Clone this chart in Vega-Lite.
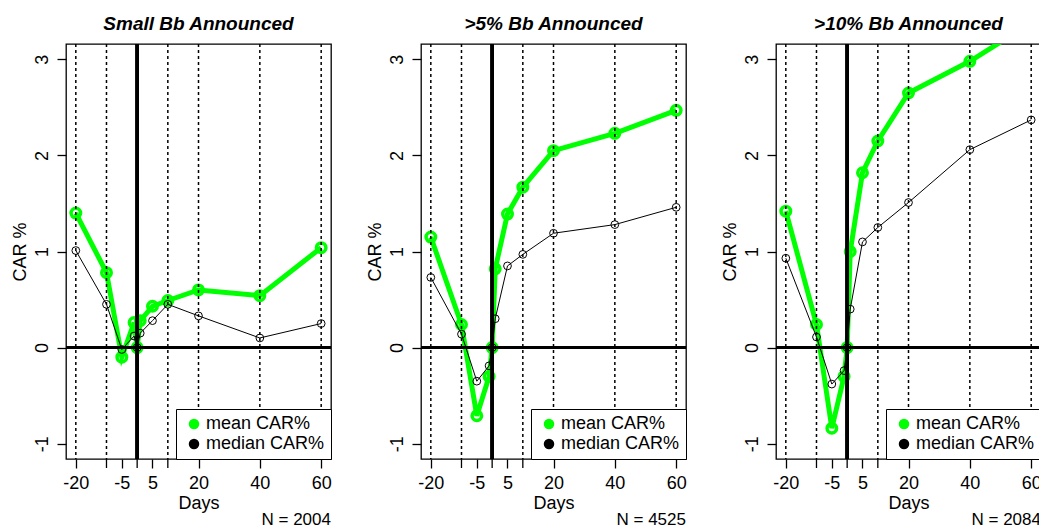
{
  "$schema": "https://vega.github.io/schema/vega-lite/v6.json",
  "padding": {"left": 10, "top": 13, "right": 0, "bottom": 0},
  "background": "white",
  "bounds": "flush",
  "spacing": 90,
  "datasets": {
    "car": [
      {"panel": "p1", "series": "mean CAR%", "day": -20, "car": 1.40},
      {"panel": "p1", "series": "mean CAR%", "day": -10, "car": 0.78},
      {"panel": "p1", "series": "mean CAR%", "day": -5, "car": -0.10},
      {"panel": "p1", "series": "mean CAR%", "day": -1, "car": 0.26},
      {"panel": "p1", "series": "mean CAR%", "day": 0, "car": 0.0},
      {"panel": "p1", "series": "mean CAR%", "day": 1, "car": 0.28},
      {"panel": "p1", "series": "mean CAR%", "day": 5, "car": 0.43},
      {"panel": "p1", "series": "mean CAR%", "day": 10, "car": 0.49},
      {"panel": "p1", "series": "mean CAR%", "day": 20, "car": 0.60},
      {"panel": "p1", "series": "mean CAR%", "day": 40, "car": 0.54},
      {"panel": "p1", "series": "mean CAR%", "day": 60, "car": 1.04},
      {"panel": "p1", "series": "median CAR%", "day": -20, "car": 1.01},
      {"panel": "p1", "series": "median CAR%", "day": -10, "car": 0.45},
      {"panel": "p1", "series": "median CAR%", "day": -5, "car": -0.02},
      {"panel": "p1", "series": "median CAR%", "day": -1, "car": 0.12},
      {"panel": "p1", "series": "median CAR%", "day": 0, "car": 0.0},
      {"panel": "p1", "series": "median CAR%", "day": 1, "car": 0.15},
      {"panel": "p1", "series": "median CAR%", "day": 5, "car": 0.28},
      {"panel": "p1", "series": "median CAR%", "day": 10, "car": 0.45},
      {"panel": "p1", "series": "median CAR%", "day": 20, "car": 0.33},
      {"panel": "p1", "series": "median CAR%", "day": 40, "car": 0.10},
      {"panel": "p1", "series": "median CAR%", "day": 60, "car": 0.25},
      {"panel": "p2", "series": "mean CAR%", "day": -20, "car": 1.15},
      {"panel": "p2", "series": "mean CAR%", "day": -10, "car": 0.24},
      {"panel": "p2", "series": "mean CAR%", "day": -5, "car": -0.71},
      {"panel": "p2", "series": "mean CAR%", "day": -1, "car": -0.30},
      {"panel": "p2", "series": "mean CAR%", "day": 0, "car": 0.0},
      {"panel": "p2", "series": "mean CAR%", "day": 1, "car": 0.82},
      {"panel": "p2", "series": "mean CAR%", "day": 5, "car": 1.39},
      {"panel": "p2", "series": "mean CAR%", "day": 10, "car": 1.67},
      {"panel": "p2", "series": "mean CAR%", "day": 20, "car": 2.05},
      {"panel": "p2", "series": "mean CAR%", "day": 40, "car": 2.23},
      {"panel": "p2", "series": "mean CAR%", "day": 60, "car": 2.47},
      {"panel": "p2", "series": "median CAR%", "day": -20, "car": 0.73},
      {"panel": "p2", "series": "median CAR%", "day": -10, "car": 0.14},
      {"panel": "p2", "series": "median CAR%", "day": -5, "car": -0.35},
      {"panel": "p2", "series": "median CAR%", "day": -1, "car": -0.19},
      {"panel": "p2", "series": "median CAR%", "day": 0, "car": 0.0},
      {"panel": "p2", "series": "median CAR%", "day": 1, "car": 0.30},
      {"panel": "p2", "series": "median CAR%", "day": 5, "car": 0.85},
      {"panel": "p2", "series": "median CAR%", "day": 10, "car": 0.97},
      {"panel": "p2", "series": "median CAR%", "day": 20, "car": 1.19},
      {"panel": "p2", "series": "median CAR%", "day": 40, "car": 1.28},
      {"panel": "p2", "series": "median CAR%", "day": 60, "car": 1.46},
      {"panel": "p3", "series": "mean CAR%", "day": -20, "car": 1.42},
      {"panel": "p3", "series": "mean CAR%", "day": -10, "car": 0.24},
      {"panel": "p3", "series": "mean CAR%", "day": -5, "car": -0.84},
      {"panel": "p3", "series": "mean CAR%", "day": -1, "car": -0.30},
      {"panel": "p3", "series": "mean CAR%", "day": 0, "car": 0.0},
      {"panel": "p3", "series": "mean CAR%", "day": 1, "car": 1.00},
      {"panel": "p3", "series": "mean CAR%", "day": 5, "car": 1.82},
      {"panel": "p3", "series": "mean CAR%", "day": 10, "car": 2.15},
      {"panel": "p3", "series": "mean CAR%", "day": 20, "car": 2.65},
      {"panel": "p3", "series": "mean CAR%", "day": 40, "car": 2.98},
      {"panel": "p3", "series": "mean CAR%", "day": 60, "car": 3.38},
      {"panel": "p3", "series": "median CAR%", "day": -20, "car": 0.93},
      {"panel": "p3", "series": "median CAR%", "day": -10, "car": 0.11},
      {"panel": "p3", "series": "median CAR%", "day": -5, "car": -0.38},
      {"panel": "p3", "series": "median CAR%", "day": -1, "car": -0.24},
      {"panel": "p3", "series": "median CAR%", "day": 0, "car": 0.0},
      {"panel": "p3", "series": "median CAR%", "day": 1, "car": 0.40},
      {"panel": "p3", "series": "median CAR%", "day": 5, "car": 1.10},
      {"panel": "p3", "series": "median CAR%", "day": 10, "car": 1.25},
      {"panel": "p3", "series": "median CAR%", "day": 20, "car": 1.51},
      {"panel": "p3", "series": "median CAR%", "day": 40, "car": 2.06},
      {"panel": "p3", "series": "median CAR%", "day": 60, "car": 2.37}
    ],
    "vlines": [{"day": -20}, {"day": -10}, {"day": 10}, {"day": 20}, {"day": 40}, {"day": 60}],
    "xticks": [{"day": -10}, {"day": 0}, {"day": 10}],
    "nlabels": [
      {"panel": "p1", "label": "N = 2004"},
      {"panel": "p2", "label": "N = 4525"},
      {"panel": "p3", "label": "N = 2084"}
    ]
  },
  "hconcat": [
    {
      "width": 265, "height": 415,
      "title": {"text": "Small Bb Announced"},
      "layer": [
        {"data": {"name": "car"}, "transform": [{"filter": "datum.panel == 'p1' && datum.series == 'mean CAR%'"}],
         "mark": {"type": "line", "clip": true, "strokeWidth": 5},
         "encoding": {
           "x": {"field": "day", "type": "quantitative", "scale": {"domain": [-23.2, 63.2], "nice": false, "zero": false},
                 "axis": {"title": "Days", "values": [-20, -5, 5, 20, 40, 60], "labelExpr": "'' + datum.value", "labelOverlap": false, "labelFlush": false, "labelPadding": 6, "titlePadding": 2}},
           "y": {"field": "car", "type": "quantitative", "scale": {"domain": [-1.16, 3.16], "nice": false, "zero": false},
                 "axis": {"title": "CAR %", "values": [-1, 0, 1, 2, 3], "labelExpr": "'' + datum.value", "labelAngle": -90, "labelAlign": "center", "labelBaseline": "bottom", "labelPadding": 6, "titlePadding": 4}},
           "color": {"field": "series", "type": "nominal", "scale": {"domain": ["mean CAR%", "median CAR%"], "range": ["#00ff00", "#000000"]},
                     "legend": {"orient": "bottom-right", "offset": 0, "title": null, "symbolType": "circle", "symbolSize": 110, "symbolOffset": 3, "labelFontSize": 18, "labelFont": "Liberation Sans", "labelColor": "black", "labelOffset": 3, "strokeColor": "black", "fillColor": "white", "padding": 6, "rowPadding": 2, "cornerRadius": 0, "labelLimit": 0,
                                "encode": {"symbols": {"update": {"fill": {"scale": "color", "field": "value"}, "strokeWidth": {"value": 0}}}}}}
         }},
        {"data": {"name": "car"}, "transform": [{"filter": "datum.panel == 'p1' && datum.series == 'mean CAR%'"}],
         "mark": {"type": "point", "shape": "circle", "filled": false, "color": "#00ff00", "strokeWidth": 3.5, "size": 90, "opacity": 1, "clip": true},
         "encoding": {"x": {"field": "day", "type": "quantitative"}, "y": {"field": "car", "type": "quantitative"}}},
        {"data": {"name": "car"}, "transform": [{"filter": "datum.panel == 'p1' && datum.series == 'median CAR%'"}],
         "mark": {"type": "line", "clip": true, "strokeWidth": 1},
         "encoding": {"x": {"field": "day", "type": "quantitative"}, "y": {"field": "car", "type": "quantitative"}, "color": {"field": "series", "type": "nominal"}}},
        {"data": {"name": "car"}, "transform": [{"filter": "datum.panel == 'p1' && datum.series == 'median CAR%'"}],
         "mark": {"type": "point", "shape": "circle", "filled": false, "color": "#000000", "strokeWidth": 1, "size": 60, "opacity": 1, "clip": true},
         "encoding": {"x": {"field": "day", "type": "quantitative"}, "y": {"field": "car", "type": "quantitative"}}},
        {"data": {"name": "vlines"}, "mark": {"type": "rule", "strokeDash": [3, 3], "strokeWidth": 1.5, "color": "black"},
         "encoding": {"x": {"field": "day", "type": "quantitative"}}},
        {"data": {"name": "xticks"}, "mark": {"type": "rule", "strokeWidth": 1.3, "color": "black"},
         "encoding": {"x": {"field": "day", "type": "quantitative"}, "y": {"datum": -1.16}, "y2": {"datum": -1.2537}}},
        {"data": {"name": "vlines"}, "mark": {"type": "rule", "strokeWidth": 3, "color": "black"}, "encoding": {"x": {"datum": 0}}},
        {"data": {"name": "vlines"}, "mark": {"type": "rule", "strokeWidth": 3, "color": "black"}, "encoding": {"y": {"datum": 0}}},
        {"data": {"name": "nlabels"}, "transform": [{"filter": "datum.panel == 'p1'"}],
         "mark": {"type": "text", "align": "right", "baseline": "alphabetic", "fontSize": 17, "font": "Liberation Sans", "color": "black"},
         "encoding": {"text": {"field": "label"}, "x": {"datum": 63.2}, "y": {"datum": -1.85}}}
      ]
    },
    {
      "width": 265, "height": 415,
      "title": {"text": ">5% Bb Announced"},
      "layer": [
        {"data": {"name": "car"}, "transform": [{"filter": "datum.panel == 'p2' && datum.series == 'mean CAR%'"}],
         "mark": {"type": "line", "clip": true, "strokeWidth": 5},
         "encoding": {
           "x": {"field": "day", "type": "quantitative", "scale": {"domain": [-23.2, 63.2], "nice": false, "zero": false},
                 "axis": {"title": "Days", "values": [-20, -5, 5, 20, 40, 60], "labelExpr": "'' + datum.value", "labelOverlap": false, "labelFlush": false, "labelPadding": 6, "titlePadding": 2}},
           "y": {"field": "car", "type": "quantitative", "scale": {"domain": [-1.16, 3.16], "nice": false, "zero": false},
                 "axis": {"title": "CAR %", "values": [-1, 0, 1, 2, 3], "labelExpr": "'' + datum.value", "labelAngle": -90, "labelAlign": "center", "labelBaseline": "bottom", "labelPadding": 6, "titlePadding": 4}},
           "color": {"field": "series", "type": "nominal", "scale": {"domain": ["mean CAR%", "median CAR%"], "range": ["#00ff00", "#000000"]},
                     "legend": {"orient": "bottom-right", "offset": 0, "title": null, "symbolType": "circle", "symbolSize": 110, "symbolOffset": 3, "labelFontSize": 18, "labelFont": "Liberation Sans", "labelColor": "black", "labelOffset": 3, "strokeColor": "black", "fillColor": "white", "padding": 6, "rowPadding": 2, "cornerRadius": 0, "labelLimit": 0,
                                "encode": {"symbols": {"update": {"fill": {"scale": "color", "field": "value"}, "strokeWidth": {"value": 0}}}}}}
         }},
        {"data": {"name": "car"}, "transform": [{"filter": "datum.panel == 'p2' && datum.series == 'mean CAR%'"}],
         "mark": {"type": "point", "shape": "circle", "filled": false, "color": "#00ff00", "strokeWidth": 3.5, "size": 90, "opacity": 1, "clip": true},
         "encoding": {"x": {"field": "day", "type": "quantitative"}, "y": {"field": "car", "type": "quantitative"}}},
        {"data": {"name": "car"}, "transform": [{"filter": "datum.panel == 'p2' && datum.series == 'median CAR%'"}],
         "mark": {"type": "line", "clip": true, "strokeWidth": 1},
         "encoding": {"x": {"field": "day", "type": "quantitative"}, "y": {"field": "car", "type": "quantitative"}, "color": {"field": "series", "type": "nominal"}}},
        {"data": {"name": "car"}, "transform": [{"filter": "datum.panel == 'p2' && datum.series == 'median CAR%'"}],
         "mark": {"type": "point", "shape": "circle", "filled": false, "color": "#000000", "strokeWidth": 1, "size": 60, "opacity": 1, "clip": true},
         "encoding": {"x": {"field": "day", "type": "quantitative"}, "y": {"field": "car", "type": "quantitative"}}},
        {"data": {"name": "vlines"}, "mark": {"type": "rule", "strokeDash": [3, 3], "strokeWidth": 1.5, "color": "black"},
         "encoding": {"x": {"field": "day", "type": "quantitative"}}},
        {"data": {"name": "xticks"}, "mark": {"type": "rule", "strokeWidth": 1.3, "color": "black"},
         "encoding": {"x": {"field": "day", "type": "quantitative"}, "y": {"datum": -1.16}, "y2": {"datum": -1.2537}}},
        {"data": {"name": "vlines"}, "mark": {"type": "rule", "strokeWidth": 3, "color": "black"}, "encoding": {"x": {"datum": 0}}},
        {"data": {"name": "vlines"}, "mark": {"type": "rule", "strokeWidth": 3, "color": "black"}, "encoding": {"y": {"datum": 0}}},
        {"data": {"name": "nlabels"}, "transform": [{"filter": "datum.panel == 'p2'"}],
         "mark": {"type": "text", "align": "right", "baseline": "alphabetic", "fontSize": 17, "font": "Liberation Sans", "color": "black"},
         "encoding": {"text": {"field": "label"}, "x": {"datum": 63.2}, "y": {"datum": -1.85}}}
      ]
    },
    {
      "width": 265, "height": 415,
      "title": {"text": ">10% Bb Announced"},
      "layer": [
        {"data": {"name": "car"}, "transform": [{"filter": "datum.panel == 'p3' && datum.series == 'mean CAR%'"}],
         "mark": {"type": "line", "clip": true, "strokeWidth": 5},
         "encoding": {
           "x": {"field": "day", "type": "quantitative", "scale": {"domain": [-23.2, 63.2], "nice": false, "zero": false},
                 "axis": {"title": "Days", "values": [-20, -5, 5, 20, 40, 60], "labelExpr": "'' + datum.value", "labelOverlap": false, "labelFlush": false, "labelPadding": 6, "titlePadding": 2}},
           "y": {"field": "car", "type": "quantitative", "scale": {"domain": [-1.16, 3.16], "nice": false, "zero": false},
                 "axis": {"title": "CAR %", "values": [-1, 0, 1, 2, 3], "labelExpr": "'' + datum.value", "labelAngle": -90, "labelAlign": "center", "labelBaseline": "bottom", "labelPadding": 6, "titlePadding": 4}},
           "color": {"field": "series", "type": "nominal", "scale": {"domain": ["mean CAR%", "median CAR%"], "range": ["#00ff00", "#000000"]},
                     "legend": {"orient": "bottom-right", "offset": 0, "title": null, "symbolType": "circle", "symbolSize": 110, "symbolOffset": 3, "labelFontSize": 18, "labelFont": "Liberation Sans", "labelColor": "black", "labelOffset": 3, "strokeColor": "black", "fillColor": "white", "padding": 6, "rowPadding": 2, "cornerRadius": 0, "labelLimit": 0,
                                "encode": {"symbols": {"update": {"fill": {"scale": "color", "field": "value"}, "strokeWidth": {"value": 0}}}}}}
         }},
        {"data": {"name": "car"}, "transform": [{"filter": "datum.panel == 'p3' && datum.series == 'mean CAR%'"}],
         "mark": {"type": "point", "shape": "circle", "filled": false, "color": "#00ff00", "strokeWidth": 3.5, "size": 90, "opacity": 1, "clip": true},
         "encoding": {"x": {"field": "day", "type": "quantitative"}, "y": {"field": "car", "type": "quantitative"}}},
        {"data": {"name": "car"}, "transform": [{"filter": "datum.panel == 'p3' && datum.series == 'median CAR%'"}],
         "mark": {"type": "line", "clip": true, "strokeWidth": 1},
         "encoding": {"x": {"field": "day", "type": "quantitative"}, "y": {"field": "car", "type": "quantitative"}, "color": {"field": "series", "type": "nominal"}}},
        {"data": {"name": "car"}, "transform": [{"filter": "datum.panel == 'p3' && datum.series == 'median CAR%'"}],
         "mark": {"type": "point", "shape": "circle", "filled": false, "color": "#000000", "strokeWidth": 1, "size": 60, "opacity": 1, "clip": true},
         "encoding": {"x": {"field": "day", "type": "quantitative"}, "y": {"field": "car", "type": "quantitative"}}},
        {"data": {"name": "vlines"}, "mark": {"type": "rule", "strokeDash": [3, 3], "strokeWidth": 1.5, "color": "black"},
         "encoding": {"x": {"field": "day", "type": "quantitative"}}},
        {"data": {"name": "xticks"}, "mark": {"type": "rule", "strokeWidth": 1.3, "color": "black"},
         "encoding": {"x": {"field": "day", "type": "quantitative"}, "y": {"datum": -1.16}, "y2": {"datum": -1.2537}}},
        {"data": {"name": "vlines"}, "mark": {"type": "rule", "strokeWidth": 3, "color": "black"}, "encoding": {"x": {"datum": 0}}},
        {"data": {"name": "vlines"}, "mark": {"type": "rule", "strokeWidth": 3, "color": "black"}, "encoding": {"y": {"datum": 0}}},
        {"data": {"name": "nlabels"}, "transform": [{"filter": "datum.panel == 'p3'"}],
         "mark": {"type": "text", "align": "right", "baseline": "alphabetic", "fontSize": 17, "font": "Liberation Sans", "color": "black"},
         "encoding": {"text": {"field": "label"}, "x": {"datum": 63.2}, "y": {"datum": -1.85}}}
      ]
    }
  ],
  "resolve": {"scale": {"color": "shared"}, "legend": {"color": "independent"}},
  "config": {
    "font": "Liberation Sans",
    "view": {"stroke": "black", "strokeWidth": 1.3},
    "axis": {"domain": false, "grid": false, "tickColor": "black", "tickSize": 9, "tickWidth": 1.3, "labelOverlap": false, "labelBound": false, "labelFlush": false,
             "labelColor": "black", "labelFontSize": 18, "labelFont": "Liberation Sans",
             "titleColor": "black", "titleFontSize": 18, "titleFont": "Liberation Sans", "titleFontWeight": "normal"},
    "title": {"font": "Liberation Sans", "fontSize": 19, "fontWeight": "bold", "fontStyle": "italic", "color": "black", "anchor": "middle", "offset": 9}
  }
}
